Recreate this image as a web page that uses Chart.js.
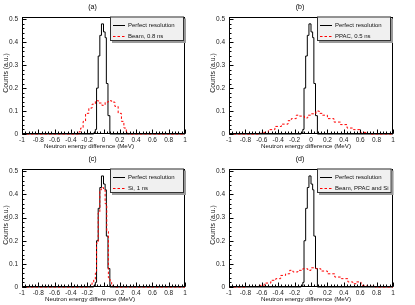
<!DOCTYPE html>
<html>
<head>
<meta charset="utf-8">
<script src="https://cdn.jsdelivr.net/npm/chart.js@4.4.0/dist/chart.umd.min.js"></script>
<style>
  body { margin: 0; background: #fff; }
  #wrap { position: relative; width: 415px; height: 305px; background: #fff; }
  canvas { position: absolute; }
</style>
</head>
<body>
<div id="wrap">
  <canvas id="ca" width="207" height="152" style="left:0;top:0"></canvas>
  <canvas id="cb" width="208" height="152" style="left:207px;top:0"></canvas>
  <canvas id="cc" width="207" height="153" style="left:0;top:152px"></canvas>
  <canvas id="cd" width="208" height="153" style="left:207px;top:152px"></canvas>
</div>
<script>
// axis ticks
const xTicks = [-1, -0.8, -0.6, -0.4, -0.2, 0, 0.2, 0.4, 0.6, 0.8, 1];
const yTicks = [0, 0.1, 0.2, 0.3, 0.4, 0.5];

// perfect resolution histogram (same in all four panels), left bin edges + counts
const perfectEdges  = [-1, -0.12, -0.10, -0.085, -0.065, -0.045, -0.025, 0.00, 0.02, 0.035, 0.055, 0.078, 1];
const perfectCounts = [0, 0.005, 0.02, 0.2, 0.34, 0.43, 0.48, 0.445, 0.42, 0.22, 0.08, 0, 0];

// (a) beam 0.8 ns
const beamEdges  = [-1, -0.30, -0.28, -0.25, -0.22, -0.18, -0.14, -0.10, -0.06, -0.02, 0.02, 0.06, 0.10, 0.14, 0.18, 0.22, 0.25, 0.28, 0.30, 1];
const beamCounts = [0, 0.01, 0.026, 0.055, 0.09, 0.113, 0.13, 0.145, 0.135, 0.125, 0.139, 0.145, 0.139, 0.12, 0.09, 0.055, 0.026, 0.005, 0, 0];

// (b) PPAC 0.5 ns
const ppacEdges  = [-1, -0.64, -0.60, -0.52, -0.44, -0.36, -0.28, -0.24, -0.18, -0.14, -0.08, -0.04, 0.00, 0.06, 0.10, 0.14, 0.20, 0.28, 0.36, 0.44, 0.52, 0.60, 0.68, 0.72, 1];
const ppacCounts = [0, 0.003, 0.007, 0.019, 0.033, 0.043, 0.058, 0.067, 0.082, 0.078, 0.07, 0.082, 0.088, 0.1, 0.09, 0.082, 0.067, 0.052, 0.041, 0.026, 0.019, 0.007, 0.002, 0, 0];

// (c) Si 1 ns
const siEdges  = [-1, -0.16, -0.14, -0.12, -0.10, -0.085, -0.065, -0.045, -0.025, 0.00, 0.02, 0.04, 0.06, 0.08, 0.10, 0.12, 1];
const siCounts = [0, 0.01, 0.02, 0.03, 0.06, 0.19, 0.32, 0.42, 0.43, 0.42, 0.36, 0.24, 0.04, 0.02, 0.005, 0, 0];

// (d) beam, PPAC and Si
const allEdges  = [-1, -0.78, -0.65, -0.57, -0.49, -0.43, -0.37, -0.31, -0.26, -0.22, -0.16, -0.10, -0.04, 0.00, 0.06, 0.12, 0.20, 0.29, 0.37, 0.45, 0.51, 0.55, 0.61, 0.69, 0.78, 1];
const allCounts = [0, 0.002, 0.007, 0.017, 0.029, 0.036, 0.05, 0.057, 0.072, 0.065, 0.072, 0.079, 0.072, 0.083, 0.079, 0.069, 0.057, 0.043, 0.036, 0.022, 0.014, 0.022, 0.007, 0.003, 0, 0];

const FONT = "'Liberation Sans', Arial, sans-serif";

function toSteps(edges, counts) {
  return edges.map((x, i) => ({ x: x, y: counts[i] }));
}

// ROOT-like frame, inner ticks, axis titles and legend box
const rootStyle = {
  id: 'rootStyle',
  afterDraw(chart, args, opts) {
    const ctx = chart.ctx;
    const a = chart.chartArea;
    const xs = chart.scales.x, ys = chart.scales.y;
    ctx.save();
    ctx.strokeStyle = '#000';
    ctx.lineWidth = 1;
    const L = Math.round(a.left) + 0.5, R = Math.round(a.right) - 0.5;
    const T = Math.round(a.top) + 0.5, B = Math.round(a.bottom) - 0.5;
    ctx.strokeRect(L, T, R - L, B - T);

    ctx.beginPath();
    xTicks.forEach(v => {
      const px = Math.round(xs.getPixelForValue(v)) + 0.5;
      ctx.moveTo(px, B); ctx.lineTo(px, B - 4);
    });
    for (let i = 0; i <= 50; i++) {
      const px = Math.round(xs.getPixelForValue(-1 + i * 0.04)) + 0.5;
      ctx.moveTo(px, B); ctx.lineTo(px, B - 2);
    }
    yTicks.forEach(v => {
      const py = Math.round(ys.getPixelForValue(v)) + 0.5;
      ctx.moveTo(L, py); ctx.lineTo(L + 4, py);
    });
    for (let i = 0; i <= 25; i++) {
      const py = Math.round(ys.getPixelForValue(i * 0.02)) + 0.5;
      ctx.moveTo(L, py); ctx.lineTo(L + 2, py);
    }
    ctx.stroke();

    // axis titles
    ctx.fillStyle = '#111';
    ctx.font = '6.2px ' + FONT;
    ctx.textAlign = 'center';
    ctx.textBaseline = 'middle';
    ctx.fillText('Neutron energy difference (MeV)', opts.xTitleX, a.bottom + 12);
    ctx.save();
    ctx.translate(6, 73);
    ctx.rotate(-Math.PI / 2);
    ctx.font = '6.8px ' + FONT;
    ctx.fillText('Counts (a.u.)', 0, 0);
    ctx.restore();

    // legend box with shadow
    const ds = chart.data.datasets;
    const rows = [ds[1], ds[0]];
    ctx.font = '6px ' + FONT;
    const textW = Math.max(...rows.map(d => ctx.measureText(d.label).width));
    const bx = 110, by = 16.5, bh = 24.5;
    const bw = Math.max(74, 128 + textW + 3 - bx);
    ctx.fillStyle = '#9a9a9a';
    ctx.fillRect(bx + 2, by + 2, bw, bh);
    ctx.fillStyle = '#f0f0f0';
    ctx.fillRect(bx, by, bw, bh);
    ctx.strokeStyle = '#333';
    ctx.strokeRect(bx + 0.5, by + 0.5, bw - 1, bh - 1);

    rows.forEach((d, i) => {
      const yy = 24.5 + i * 11.5;
      ctx.strokeStyle = d.borderColor;
      ctx.lineWidth = 1;
      ctx.setLineDash(d.borderDash || []);
      ctx.beginPath();
      ctx.moveTo(113, Math.round(yy) + 0.5);
      ctx.lineTo(125, Math.round(yy) + 0.5);
      ctx.stroke();
      ctx.setLineDash([]);
      ctx.fillStyle = '#111';
      ctx.textAlign = 'left';
      ctx.fillText(d.label, 128, yy + 0.5);
    });
    ctx.restore();
  }
};

function makePanel(id, title, label, edges, counts, xTitleX) {
  new Chart(document.getElementById(id), {
    type: 'line',
    data: {
      datasets: [
        {
          label: label,
          data: toSteps(edges, counts),
          stepped: 'before',
          borderColor: '#ff0000',
          borderWidth: 1,
          borderDash: [2.5, 2],
          pointRadius: 0,
          fill: false,
          order: 0,
          clip: 2
        },
        {
          label: 'Perfect resolution',
          data: toSteps(perfectEdges, perfectCounts),
          stepped: 'before',
          borderColor: '#000',
          borderWidth: 1,
          pointRadius: 0,
          fill: false,
          order: 1,
          clip: 2
        }
      ]
    },
    options: {
      responsive: false,
      animation: false,
      layout: { padding: { left: 0, right: 22, top: 0, bottom: 0 } },
      scales: {
        x: {
          type: 'linear',
          min: -1, max: 1,
          afterBuildTicks: s => { s.ticks = xTicks.map(v => ({ value: v })); },
          afterFit: s => { s.height = 18; },
          grid: { display: false, drawTicks: false },
          border: { display: false },
          ticks: {
            padding: 2,
            maxRotation: 0,
            autoSkip: false,
            color: '#222',
            font: { family: FONT, size: 6.5 },
            callback: v => String(Math.round(v * 10) / 10)
          }
        },
        y: {
          min: 0, max: 0.51,
          afterBuildTicks: s => { s.ticks = yTicks.map(v => ({ value: v })); },
          afterFit: s => { s.width = 22; },
          grid: { display: false, drawTicks: false },
          border: { display: false },
          ticks: {
            padding: 4,
            color: '#222',
            font: { family: FONT, size: 6.5 },
            callback: v => String(Math.round(v * 10) / 10)
          }
        }
      },
      plugins: {
        legend: { display: false },
        tooltip: { enabled: false },
        title: {
          display: true,
          text: title,
          color: '#000',
          font: { family: FONT, size: 7, weight: 'normal' },
          padding: { top: 3, bottom: 5.6 }
        },
        rootStyle: { xTitleX: xTitleX }
      }
    },
    plugins: [rootStyle]
  });
}

makePanel('ca', '(a)', 'Beam, 0.8 ns', beamEdges, beamCounts, 89);
makePanel('cb', '(b)', 'PPAC, 0.5 ns', ppacEdges, ppacCounts, 99);
makePanel('cc', '(c)', 'Si, 1 ns', siEdges, siCounts, 90);
makePanel('cd', '(d)', 'Beam, PPAC and Si', allEdges, allCounts, 99);
</script>
</body>
</html>
